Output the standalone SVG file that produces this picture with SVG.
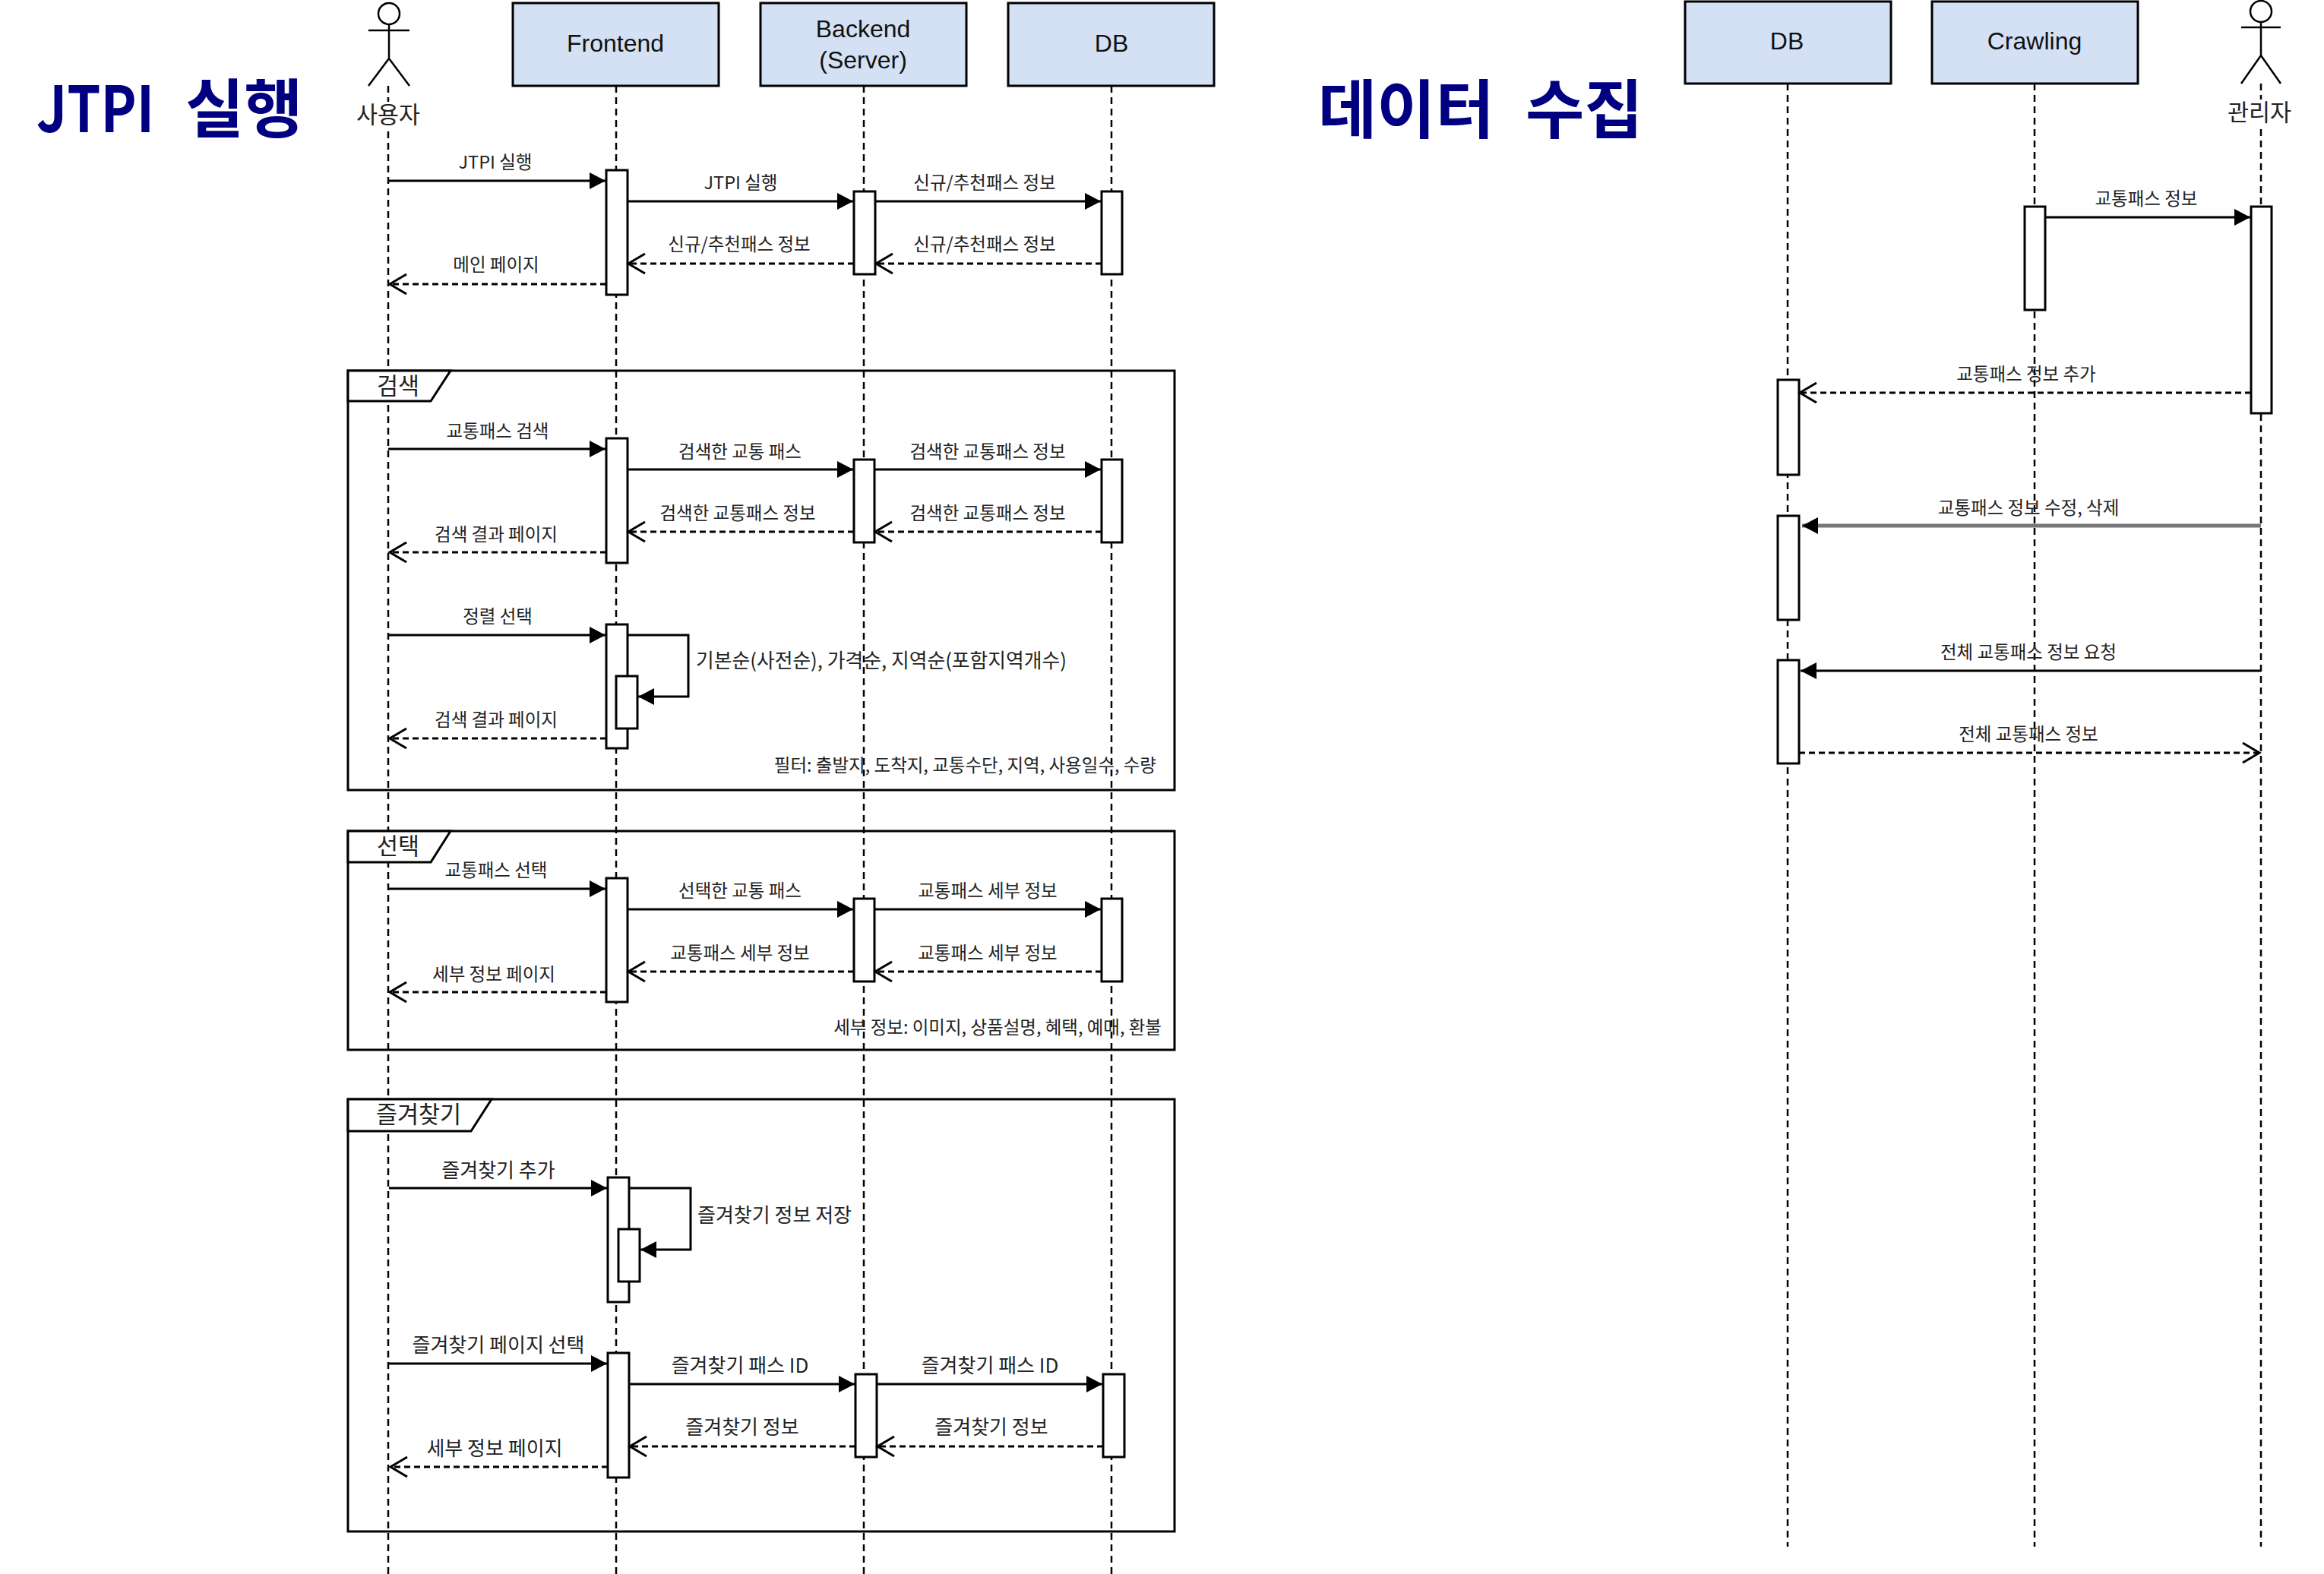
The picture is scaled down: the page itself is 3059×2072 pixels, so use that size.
<svg xmlns="http://www.w3.org/2000/svg" width="3059" height="2072" viewBox="0 0 3059 2072">
<style>
text{font-family:"Noto Sans CJK KR","Liberation Sans",sans-serif;fill:#222;text-anchor:middle;dominant-baseline:central}
#labels{transform:translate(0,-2px)}
.t{font-size:23.5px}
.b{font-size:26px}
.f{font-size:30.5px}
.h{font-family:"Liberation Sans","Noto Sans CJK KR",sans-serif;font-size:32px;fill:#111}
.title{font-size:84px;font-weight:700;fill:#000080;text-anchor:start;dominant-baseline:auto;word-spacing:22px}
.l{text-anchor:start}
.r{text-anchor:end}
.box{fill:#d4e1f5;stroke:#000;stroke-width:3}
.act{fill:#fff;stroke:#000;stroke-width:3}
.life{stroke:#000;stroke-width:2.5;stroke-dasharray:9 6;fill:none}
.frame{fill:none;stroke:#000;stroke-width:3}
.tab{fill:#fff;stroke:#000;stroke-width:3}
.actor{fill:none;stroke:#000;stroke-width:2.5}
.lb{fill:#fff;stroke:none}
.m{stroke:#000;stroke-width:3;fill:none;marker-end:url(#solid)}
.d{stroke:#000;stroke-width:3;stroke-dasharray:8 5;fill:none;marker-end:url(#open)}
</style>
<defs>
<marker id="solid" markerUnits="userSpaceOnUse" markerWidth="24" markerHeight="24" refX="21" refY="11" orient="auto"><path d="M0 0L21 11L0 22Z" fill="#000"/></marker>
<marker id="open" markerUnits="userSpaceOnUse" markerWidth="30" markerHeight="32" refX="24" refY="14" orient="auto"><path d="M2 1L24 14L2 27" fill="none" stroke="#000" stroke-width="3"/></marker>
</defs>
<rect width="3059" height="2072" fill="#fff"/>
<g id="titles">
<text class="title" x="48" y="174"><tspan textLength="155" lengthAdjust="spacingAndGlyphs">JTPI</tspan> 실행</text>
<text class="title" x="1735" y="175">데이터 수집</text>
</g>
<g id="lifelines">
<path class="life" d="M511 113V2072"/>
<path class="life" d="M811 113V2072"/>
<path class="life" d="M1137 113V2072"/>
<path class="life" d="M1463 113V2072"/>
<path class="life" d="M2353 110V2036"/>
<path class="life" d="M2678 110V2036"/>
<path class="life" d="M2976 110V2036"/>
</g>
<g id="frame-search">
<rect class="frame" x="458" y="488" width="1088" height="552"/>
<path class="tab" d="M458 488H593L567 528H458Z"/>
<text class="f" x="524" y="506">검색</text>
</g>
<g id="frame-select">
<rect class="frame" x="458" y="1094" width="1088" height="288"/>
<path class="tab" d="M458 1094H593L567 1135H458Z"/>
<text class="f" x="524" y="1112">선택</text>
</g>
<g id="frame-favorite">
<rect class="frame" x="458" y="1447" width="1088" height="569"/>
<path class="tab" d="M458 1447H647L620 1489H458Z"/>
<text class="f" x="551" y="1465">즐겨찾기</text>
</g>
<g id="actor-user">
<ellipse class="actor" cx="512" cy="18" rx="14" ry="14"/>
<path class="actor" d="M485 40H539M512 32V77M512 77L485 113M512 77L539 113"/>
<rect class="lb" x="465" y="134" width="95" height="34"/>
<text class="f" x="511" y="149">사용자</text>
</g>
<g id="node-frontend"><rect class="box" x="675" y="4" width="271" height="109"/><text class="h" x="810" y="57">Frontend</text></g>
<g id="node-backend"><rect class="box" x="1001" y="4" width="271" height="109"/><text class="h" x="1136" y="38">Backend</text><text class="h" x="1136" y="79">(Server)</text></g>
<g id="node-db"><rect class="box" x="1327" y="4" width="271" height="109"/><text class="h" x="1463" y="57">DB</text></g>
<g id="node-db2"><rect class="box" x="2218" y="2" width="271" height="108"/><text class="h" x="2352" y="54">DB</text></g>
<g id="node-crawling"><rect class="box" x="2543" y="2" width="271" height="108"/><text class="h" x="2678" y="54">Crawling</text></g>
<g id="actor-admin">
<ellipse class="actor" cx="2976" cy="15" rx="14" ry="14"/>
<path class="actor" d="M2950 36H3002M2976 29V73M2976 73L2950 110M2976 73L3002 110"/>
<rect class="lb" x="2930" y="131" width="92" height="34"/>
<text class="f" x="2974" y="146">관리자</text>
</g>
<g id="activations">
<rect class="act" x="798" y="224" width="28" height="164"/>
<rect class="act" x="1124" y="252" width="28" height="109"/>
<rect class="act" x="1450" y="252" width="27" height="109"/>
<rect class="act" x="798" y="577" width="28" height="164"/>
<rect class="act" x="1124" y="605" width="27" height="109"/>
<rect class="act" x="1450" y="605" width="27" height="109"/>
<rect class="act" x="798" y="822" width="28" height="163"/>
<rect class="act" x="811" y="890" width="28" height="69"/>
<rect class="act" x="798" y="1156" width="28" height="163"/>
<rect class="act" x="1124" y="1183" width="27" height="109"/>
<rect class="act" x="1450" y="1183" width="27" height="109"/>
<rect class="act" x="800" y="1550" width="28" height="164"/>
<rect class="act" x="814" y="1618" width="28" height="69"/>
<rect class="act" x="800" y="1781" width="28" height="164"/>
<rect class="act" x="1126" y="1809" width="28" height="109"/>
<rect class="act" x="1452" y="1809" width="28" height="109"/>
<rect class="act" x="2665" y="272" width="27" height="136"/>
<rect class="act" x="2963" y="272" width="27" height="272"/>
<rect class="act" x="2340" y="500" width="28" height="125"/>
<rect class="act" x="2340" y="679" width="28" height="137"/>
<rect class="act" x="2340" y="869" width="28" height="136"/>
</g>
<g id="connectors">
<path class="m" d="M511 238H797"/>
<path class="m" d="M826 265H1123"/>
<path class="m" d="M1152 265H1449"/>
<path class="d" d="M1450 347H1153"/>
<path class="d" d="M1124 347H827"/>
<path class="d" d="M798 374H513"/>
<path class="m" d="M511 591H797"/>
<path class="m" d="M826 618H1123"/>
<path class="m" d="M1151 618H1449"/>
<path class="d" d="M1450 700H1152"/>
<path class="d" d="M1124 700H827"/>
<path class="d" d="M798 727H513"/>
<path class="m" d="M511 836H797"/>
<path class="m" d="M826 836H906V917H840"/>
<path class="d" d="M798 972H513"/>
<path class="m" d="M511 1170H797"/>
<path class="m" d="M826 1197H1123"/>
<path class="m" d="M1151 1197H1449"/>
<path class="d" d="M1450 1279H1152"/>
<path class="d" d="M1124 1279H827"/>
<path class="d" d="M798 1306H513"/>
<path class="m" d="M512 1564H799"/>
<path class="m" d="M828 1564H909V1645H843"/>
<path class="m" d="M512 1795H799"/>
<path class="m" d="M828 1822H1125"/>
<path class="m" d="M1154 1822H1451"/>
<path class="d" d="M1452 1904H1155"/>
<path class="d" d="M1126 1904H829"/>
<path class="d" d="M800 1931H514"/>
<path class="m" d="M2692 286H2962"/>
<path class="d" d="M2963 517H2369"/>
<path class="m" style="stroke:#777;stroke-width:5" d="M2976 692H2372"/>
<path class="m" d="M2976 883H2370"/>
<path class="d" d="M2368 991H2974"/>
</g>
<g id="labels">
<text class="t" x="652" y="214">JTPI 실행</text>
<text class="t" x="975" y="241">JTPI 실행</text>
<text class="t" x="1296" y="241">신규/추천패스 정보</text>
<text class="t" x="973" y="322">신규/추천패스 정보</text>
<text class="t" x="1296" y="322">신규/추천패스 정보</text>
<text class="t" x="653" y="349">메인 페이지</text>
<text class="t" x="655" y="568">교통패스 검색</text>
<text class="t" x="974" y="595">검색한 교통 패스</text>
<text class="t" x="1300" y="595">검색한 교통패스 정보</text>
<text class="t" x="971" y="676">검색한 교통패스 정보</text>
<text class="t" x="1300" y="676">검색한 교통패스 정보</text>
<text class="t" x="653" y="704">검색 결과 페이지</text>
<text class="t" x="655" y="812">정렬 선택</text>
<text class="b l" x="916" y="869" style="font-size:25.8px">기본순(사전순), 가격순, 지역순(포함지역개수)</text>
<text class="t" x="653" y="948">검색 결과 페이지</text>
<text class="t r" x="1522" y="1008">필터: 출발지, 도착지, 교통수단, 지역, 사용일수, 수량</text>
<text class="t" x="653" y="1146">교통패스 선택</text>
<text class="t" x="974" y="1173">선택한 교통 패스</text>
<text class="t" x="1300" y="1173">교통패스 세부 정보</text>
<text class="t" x="974" y="1255">교통패스 세부 정보</text>
<text class="t" x="1300" y="1255">교통패스 세부 정보</text>
<text class="t" x="650" y="1283">세부 정보 페이지</text>
<text class="t r" x="1529" y="1353">세부 정보: 이미지, 상품설명, 혜택, 예매, 환불</text>
<text class="b" x="656" y="1540">즐겨찾기 추가</text>
<text class="b l" x="918" y="1599">즐겨찾기 정보 저장</text>
<text class="b" x="656" y="1770">즐겨찾기 페이지 선택</text>
<text class="b" x="974" y="1797">즐겨찾기 패스 ID</text>
<text class="b" x="1303" y="1797">즐겨찾기 패스 ID</text>
<text class="b" x="977" y="1878">즐겨찾기 정보</text>
<text class="b" x="1305" y="1878">즐겨찾기 정보</text>
<text class="b" x="651" y="1906">세부 정보 페이지</text>
<text class="t" x="2825" y="262">교통패스 정보</text>
<text class="t" x="2667" y="493">교통패스 정보 추가</text>
<text class="t" x="2670" y="669">교통패스 정보 수정, 삭제</text>
<text class="t" x="2670" y="859">전체 교통패스 정보 요청</text>
<text class="t" x="2670" y="967">전체 교통패스 정보</text>
</g>
</svg>
